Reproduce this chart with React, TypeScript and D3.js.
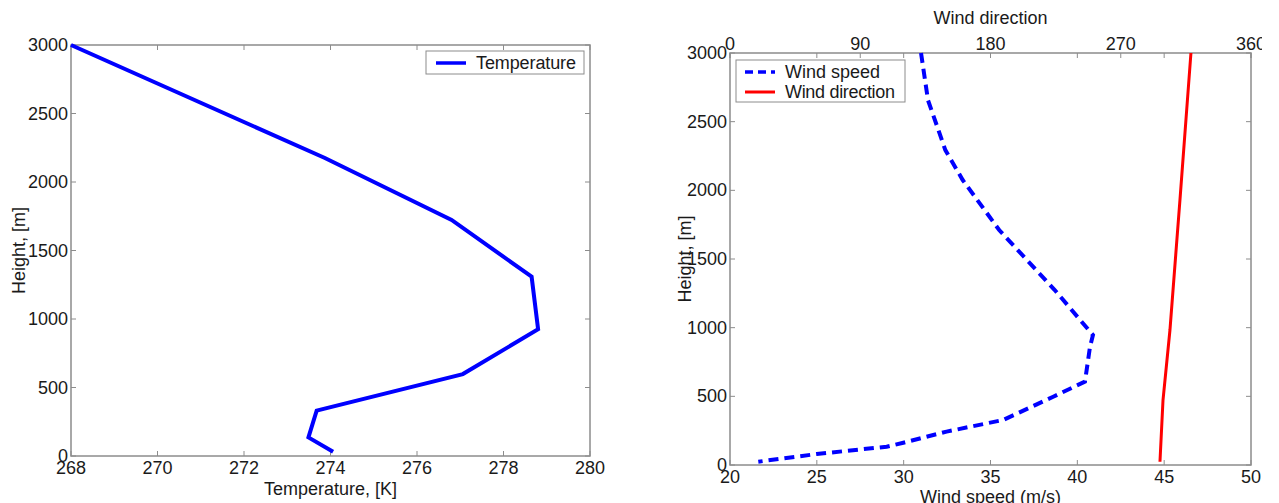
import React from "react";
import * as d3 from "d3";

// Left panel: temperature profile
const tempK = [268.0, 273.87, 276.8, 278.65, 278.8, 277.06, 273.68, 273.49, 274.06];
const tempH = [3000, 2175, 1723, 1309, 925, 598, 331, 136, 31];

// Right panel: wind speed profile
const windSpeed = [31.0, 31.4, 32.4, 33.4, 35.5, 38.7, 40.9, 40.73, 40.44, 38.61, 35.73, 32.47, 29.98, 29.02, 24.99, 21.63];
const windSpeedH = [3000, 2657, 2293, 2075, 1711, 1274, 946, 861, 607, 497, 328, 243, 162, 133, 80, 24];

// Right panel: wind direction profile
const windDir = [318.5, 310.9, 304.0, 299.2, 297.1];
const windDirH = [3000, 1929, 983, 473, 24];

const tempTicks = [268, 270, 272, 274, 276, 278, 280];
const heightTicks = [0, 500, 1000, 1500, 2000, 2500, 3000];
const speedTicks = [20, 25, 30, 35, 40, 45, 50];
const dirTicks = [0, 90, 180, 270, 360];

const FONT = "'Liberation Sans', Arial, Helvetica, sans-serif";
const AX = "#8c8c8c";
const TXT = "#1a1a1a";
const FS = 18;
const TL = 5;

export default function App() {
  // left panel scales
  const lx = d3.scaleLinear().domain([268, 280]).range([71, 590]);
  const ly = d3.scaleLinear().domain([0, 3000]).range([456, 45]);
  // right panel scales
  const rx = d3.scaleLinear().domain([20, 50]).range([730, 1251]);
  const rxd = d3.scaleLinear().domain([0, 360]).range([730, 1251]);
  const ry = d3.scaleLinear().domain([0, 3000]).range([465, 53]);

  const tempLine = d3
    .line<number>()
    .x((_, i) => lx(tempK[i]))
    .y((_, i) => ly(tempH[i]));
  const speedLine = d3
    .line<number>()
    .x((_, i) => rx(windSpeed[i]))
    .y((_, i) => ry(windSpeedH[i]));
  const dirLine = d3
    .line<number>()
    .x((_, i) => rxd(windDir[i]))
    .y((_, i) => ry(windDirH[i]));

  const [lx0, lx1] = lx.range();
  const [ly0, ly1] = ly.range();
  const [rx0, rx1] = rx.range();
  const [ry0, ry1] = ry.range();

  return (
    <svg
      width={1279}
      height={503}
      style={{ position: "absolute", left: 0, top: 0, background: "#fff" }}
      fontFamily={FONT}
    >
      <rect x={0} y={0} width={1279} height={503} fill="#fff" />

      {/* ===== Left panel ===== */}
      <rect x={lx0} y={ly1} width={lx1 - lx0} height={ly0 - ly1} fill="#fff" stroke={AX} strokeWidth={1.5} />
      {tempTicks.map((t) => (
        <g key={"lxt" + t}>
          <line x1={lx(t)} x2={lx(t)} y1={ly0} y2={ly0 - TL} stroke={AX} strokeWidth={1} />
          <line x1={lx(t)} x2={lx(t)} y1={ly1} y2={ly1 + TL} stroke={AX} strokeWidth={1} />
          <text x={lx(t)} y={ly0 + 18} textAnchor="middle" fontSize={FS} fill={TXT}>
            {t}
          </text>
        </g>
      ))}
      {heightTicks.map((h) => (
        <g key={"lyt" + h}>
          <line x1={lx0} x2={lx0 + TL} y1={ly(h)} y2={ly(h)} stroke={AX} strokeWidth={1} />
          <line x1={lx1} x2={lx1 - TL} y1={ly(h)} y2={ly(h)} stroke={AX} strokeWidth={1} />
          <text x={lx0 - 3} y={ly(h) + 6} textAnchor="end" fontSize={FS} fill={TXT}>
            {h}
          </text>
        </g>
      ))}
      <path d={tempLine(tempK) || ""} fill="none" stroke="#0000ff" strokeWidth={4} strokeLinejoin="miter" />
      <text x={(lx0 + lx1) / 2} y={495} textAnchor="middle" fontSize={FS} fill={TXT}>
        Temperature, [K]
      </text>
      <text
        transform={`translate(25, ${(ly0 + ly1) / 2}) rotate(-90)`}
        textAnchor="middle"
        fontSize={FS}
        fill={TXT}
      >
        Height, [m]
      </text>
      {/* left legend */}
      <rect x={426} y={51} width={158} height={23} fill="#fff" stroke={AX} strokeWidth={1} />
      <line x1={436} x2={466} y1={63} y2={63} stroke="#0000ff" strokeWidth={3.5} />
      <text x={476} y={69} fontSize={FS} fill={TXT} textLength={100}>
        Temperature
      </text>

      {/* ===== Right panel ===== */}
      <rect x={rx0} y={ry1} width={rx1 - rx0} height={ry0 - ry1} fill="#fff" stroke={AX} strokeWidth={1.5} />
      {speedTicks.map((t) => (
        <g key={"rxt" + t}>
          <line x1={rx(t)} x2={rx(t)} y1={ry0} y2={ry0 - TL} stroke={AX} strokeWidth={1} />
          <line x1={rx(t)} x2={rx(t)} y1={ry1} y2={ry1 + TL} stroke={AX} strokeWidth={1} />
          <text x={rx(t)} y={ry0 + 18} textAnchor="middle" fontSize={FS} fill={TXT}>
            {t}
          </text>
        </g>
      ))}
      {dirTicks.map((t) => (
        <g key={"rdt" + t}>
          <line x1={rxd(t)} x2={rxd(t)} y1={ry1} y2={ry1 + TL} stroke={AX} strokeWidth={1} />
          <text x={rxd(t)} y={ry1 - 3} textAnchor="middle" fontSize={FS} fill={TXT}>
            {t}
          </text>
        </g>
      ))}
      {heightTicks.map((h) => (
        <g key={"ryt" + h}>
          <line x1={rx0} x2={rx0 + TL} y1={ry(h)} y2={ry(h)} stroke={AX} strokeWidth={1} />
          <line x1={rx1} x2={rx1 - TL} y1={ry(h)} y2={ry(h)} stroke={AX} strokeWidth={1} />
          <text x={rx0 - 3} y={ry(h) + 6} textAnchor="end" fontSize={FS} fill={TXT}>
            {h}
          </text>
        </g>
      ))}
      <path
        d={speedLine(windSpeed) || ""}
        fill="none"
        stroke="#0000ff"
        strokeWidth={4}
        strokeDasharray="10,6"
      />
      <path d={dirLine(windDir) || ""} fill="none" stroke="#ff0000" strokeWidth={3} />
      <text x={(rx0 + rx1) / 2} y={503} textAnchor="middle" fontSize={FS} fill={TXT}>
        Wind speed (m/s)
      </text>
      <text x={(rx0 + rx1) / 2} y={24} textAnchor="middle" fontSize={FS} fill={TXT}>
        Wind direction
      </text>
      <text
        transform={`translate(691, ${(ry0 + ry1) / 2}) rotate(-90)`}
        textAnchor="middle"
        fontSize={FS}
        fill={TXT}
      >
        Height, [m]
      </text>
      {/* right legend */}
      <rect x={736} y={60} width={169} height={42} fill="#fff" stroke={AX} strokeWidth={1} />
      <line x1={745} x2={775} y1={72} y2={72} stroke="#0000ff" strokeWidth={3.5} strokeDasharray="8,5" />
      <text x={785} y={78} fontSize={FS} fill={TXT}>
        Wind speed
      </text>
      <line x1={745} x2={775} y1={92} y2={92} stroke="#ff0000" strokeWidth={3} />
      <text x={785} y={98} fontSize={FS} fill={TXT} textLength={110}>
        Wind direction
      </text>

      {/* image crop on the right edge */}
      <rect x={1262} y={0} width={17} height={503} fill="#fff" />
    </svg>
  );
}
